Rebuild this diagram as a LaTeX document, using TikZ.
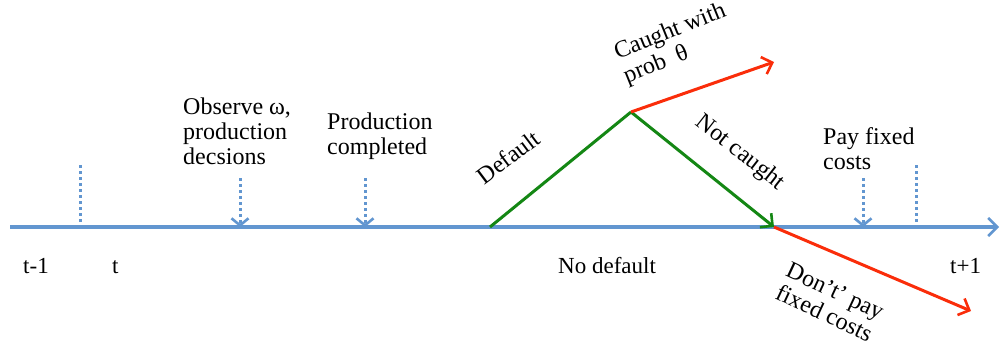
\documentclass[tikz,border=0pt]{standalone}
\usepackage{fontspec}
\setmainfont{Liberation Serif}
\usetikzlibrary{arrows.meta}
\definecolor{tlblue}{RGB}{98,150,208}
\definecolor{tgreen}{RGB}{20,135,20}
\definecolor{tred}{RGB}{250,45,10}
\tikzset{
  barb/.style={-{Straight Barb[length=9pt,width=18pt,line width=2.6pt]}},
  timeline/.style={draw=tlblue,line width=3.2pt,barb},
  tick/.style={draw=tlblue,line width=3pt,dash pattern=on 3pt off 3pt},
  evarrow/.style={draw=tlblue,line width=3pt,dash pattern=on 3pt off 3pt,
    -{Straight Barb[length=7pt,width=17pt,line width=2.6pt,sep=0pt]}},
  gpath/.style={draw=tgreen,line width=3pt},
  rpath/.style={draw=tred,line width=3pt},
  biglbl/.style={font=\fontsize{24}{25}\selectfont,align=left,inner sep=0pt,anchor=base west},
  rotlbl/.style={font=\fontsize{24}{25}\selectfont,align=left,inner sep=0pt},
  smalllbl/.style={font=\fontsize{23}{24}\selectfont,inner sep=0pt,anchor=base west},
}
\begin{document}
\begin{tikzpicture}[x=1pt,y=-1pt]
\useasboundingbox (0,0) rectangle (1001,349);
% timeline
\coordinate (tl0) at (10,227);
\coordinate (tl1) at (999,227);
\draw[timeline] (tl0) -- (tl1);
% ticks
\coordinate (k1a) at (80,165);
\coordinate (k1b) at (80,227);
\coordinate (k2a) at (916,165);
\coordinate (k2b) at (916,227);
\draw[tick] (k1a) -- (k1b);
\draw[tick] (k2a) -- (k2b);
% event arrows
\coordinate (e1a) at (240,178); \coordinate (e1b) at (240,227);
\coordinate (e2a) at (365,178); \coordinate (e2b) at (365,227);
\coordinate (e3a) at (863,178); \coordinate (e3b) at (863,227);
\draw[evarrow] (e1a) -- (e1b);
\draw[evarrow] (e2a) -- (e2b);
\draw[evarrow] (e3a) -- (e3b);
% default branch
\coordinate (d0) at (490,227);
\coordinate (apex) at (631,112);
\coordinate (nc) at (774,227);
\coordinate (ct) at (774,62);
\coordinate (dp) at (971,311);
\draw[gpath,line join=round] (d0) -- (apex);
\draw[gpath,barb] (apex) -- (nc);
\draw[rpath,barb] (apex) -- (ct);
\draw[rpath,barb] (nc) -- (dp);
% labels
\node[biglbl] (obs) at (183,164) {Observe ω,\\production\\decsions};
\node[biglbl] (prod) at (327,154) {Production\\completed};
\node[biglbl] (pay) at (823,169) {Pay fixed\\costs};
\node[rotlbl,rotate=37] (deflbl) at (508,157) {Default};
\node[rotlbl,rotate=22] (caught) at (675,44) {Caught with\\prob~~θ};
\node[rotlbl,rotate=-38] (notc) at (740,153) {Not caught};
\node[rotlbl,rotate=-25] (dont) at (830,302) {Don’t’ pay\\fixed costs};
\node[smalllbl] (tm1) at (23,273) {t-1};
\node[smalllbl] (tt) at (112,273) {t};
\node[smalllbl] (nd) at (558,273) {No default};
\node[smalllbl] (tp1) at (950,273) {t+1};
\end{tikzpicture}
\end{document}
